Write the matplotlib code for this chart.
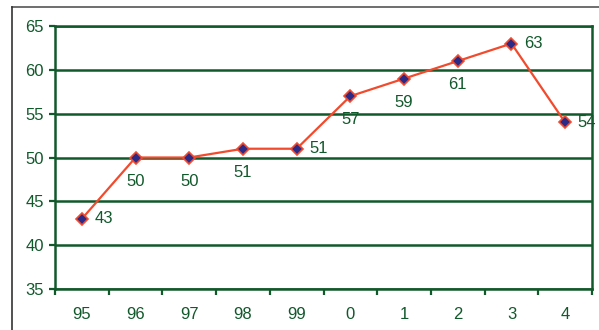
import matplotlib
matplotlib.use("Agg")
import matplotlib.pyplot as plt
from matplotlib.lines import Line2D

years = ["95", "96", "97", "98", "99", "0", "1", "2", "3", "4"]
values = [43, 50, 50, 51, 51, 57, 59, 61, 63, 54]
label_side = ["right", "below", "below", "below", "right", "below", "below", "below", "right", "right"]
y_ticks = [35, 40, 45, 50, 55, 60, 65]

green = "#11592b"
red = "#f24a2c"
navy = "#2b2a86"

plt.rcParams["font.family"] = ["Liberation Sans", "DejaVu Sans"]
fs = 12

W, H = 599, 330
fig = plt.figure(figsize=(W / 100, H / 100), dpi=100)
ax = fig.add_axes([55 / W, 1 - 289 / H, (592 - 55) / W, (289 - 26) / H])

x = list(range(len(years)))
ax.plot(x, values, color=red, lw=1.6, zorder=3)
ax.plot(x, values, ls="none", marker="D", ms=6, mfc=navy, mec=red, mew=1.2, zorder=4)

for xi, v, side in zip(x, values, label_side):
    if side == "right":
        ax.annotate(str(v), (xi, v), xytext=(9, 0), textcoords="offset points",
                    ha="left", va="center", color=green, fontsize=fs)
    else:
        ax.annotate(str(v), (xi, v), xytext=(0, -17), textcoords="offset points",
                    ha="center", va="center", color=green, fontsize=fs)

ax.set_xlim(-0.5, len(years) - 0.5)
ax.set_ylim(35, 65)
ax.set_yticks(y_ticks)
ax.set_yticklabels([str(t) for t in y_ticks])
for t in y_ticks:
    ax.axhline(t, color=green, lw=1.8, zorder=1)

ax.set_xticks(x)
ax.set_xticklabels(years)
ax.set_xticks([i - 0.5 for i in range(len(years) + 1)], minor=True)
ax.tick_params(axis="x", which="major", length=0, pad=13, labelsize=fs, labelcolor=green)
ax.tick_params(axis="x", which="minor", length=4, width=1.6, color=green, direction="out")
ax.tick_params(axis="y", length=4, width=1.6, color=green, pad=4, labelsize=fs, labelcolor=green)

for s in ax.spines.values():
    s.set_color(green)
    s.set_linewidth(1.8)

# outer frame along the top and left edges
fig.add_artist(Line2D([12 / W, 1], [1 - 7 / H, 1 - 7 / H], color="#555555", lw=1.2,
                      transform=fig.transFigure))
fig.add_artist(Line2D([12 / W, 12 / W], [0, 1 - 7 / H], color="#333333", lw=1.2,
                      transform=fig.transFigure))

fig.savefig("out.png", dpi=100)
